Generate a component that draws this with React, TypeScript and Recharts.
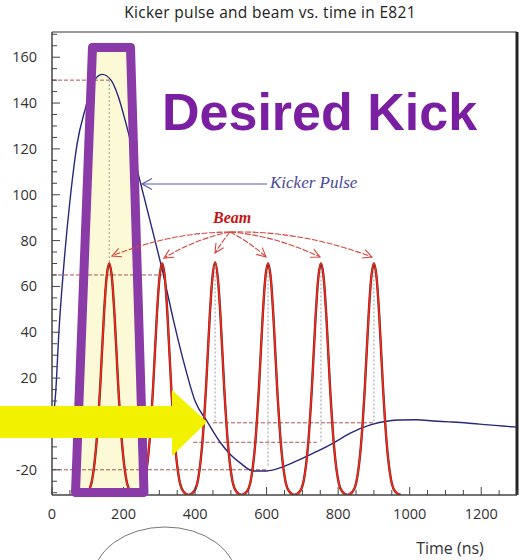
import React from 'react';
import { LineChart, Line, XAxis, YAxis, ReferenceLine } from 'recharts';

// kicker pulse (time in ns, arbitrary units)
const kickerTime = [0, 10, 20, 34, 52, 70, 94, 115, 140, 165, 185, 207, 246, 280, 310, 340, 370, 400, 434, 470, 500, 526, 562, 600, 646, 700, 741, 790, 834, 890, 940, 973, 1020, 1066, 1110, 1160, 1220, 1260, 1300];
const kickerValue = [-2, 13, 42, 71, 100, 122, 138, 149, 152.5, 150, 143, 131, 106, 85, 66, 45, 26, 10, 1, -8, -13.5, -17, -20.5, -20.5, -18.7, -15, -12, -8, -4, -0.4, 1.3, 1.7, 1.8, 1.3, 0.9, 0.4, -0.4, -0.9, -1.4];

// beam bunches, one every ~148 ns
const beamTime = [
  85, 100, 110, 125, 135, 145, 152, 160, 168, 175, 185, 195, 210, 220, 234,
  248, 258, 273, 283, 293, 300, 308, 316, 323, 333, 343, 358, 368, 382,
  396, 406, 421, 431, 441, 448, 456, 464, 471, 481, 491, 506, 516, 530,
  544, 554, 569, 579, 589, 596, 604, 612, 619, 629, 639, 654, 664, 678,
  692, 702, 717, 727, 737, 744, 752, 760, 767, 777, 787, 802, 812, 826,
  840, 850, 865, 875, 885, 892, 900, 908, 915, 925, 935, 950, 960, 975,
];
const beamValue = [
  -31, -29.6, -26, -7, 17, 47, 63, 70, 63, 47, 17, -7, -26, -29.6, -31,
  -29.6, -26, -7, 17, 47, 63, 70, 63, 47, 17, -7, -26, -29.6, -31,
  -29.6, -26, -7, 17, 47, 63, 70.5, 63, 47, 17, -7, -26, -29.6, -31,
  -29.6, -26, -7, 17, 47, 63, 70, 63, 47, 17, -7, -26, -29.6, -31,
  -29.6, -26, -7, 17, 47, 63, 70, 63, 47, 17, -7, -26, -29.6, -31,
  -29.6, -26, -7, 17, 47, 63, 70, 63, 47, 17, -7, -26, -29.6, -31,
];

const xTicks = [0, 50, 100, 150, 200, 250, 300, 350, 400, 450, 500, 550, 600, 650, 700, 750, 800, 850, 900, 950, 1000, 1050, 1100, 1150, 1200, 1250, 1300];
const yTicks = [-30, -25, -20, -15, -10, -5, 0, 5, 10, 15, 20, 25, 30, 35, 40, 45, 50, 55, 60, 65, 70, 75, 80, 85, 90, 95, 100, 105, 110, 115, 120, 125, 130, 135, 140, 145, 150, 155, 160, 165, 170];

// guide lines drawn on the original plot
const dashedGuides = [
  [[0, 150], [160, 150]],
  [[0, 65], [308, 65]],
  [[450, 0.5], [900, 0.5]],
  [[395, -8], [740, -8]],
  [[0, -20], [600, -20]],
];
const dottedGuides = [
  [[160, 150], [160, 70]],
  [[456, 70], [456, 0.5]],
  [[604, 70], [604, -19]],
  [[752, 70], [752, -8]],
  [[900, 70], [900, 0.5]],
];

const kickerData = kickerTime.map((t, i) => ({ t, v: kickerValue[i] }));
const beamData = beamTime.map((t, i) => ({ t, v: beamValue[i] }));

const FONT = '"Open Sans", "DejaVu Sans", sans-serif';

const XTick = (props: any) => {
  const { x, y, payload } = props;
  const major = payload.value % 200 === 0;
  return (
    <g>
      <line x1={x} x2={x} y1={y} y2={y - (major ? 8 : 5)} stroke="#444" />
      {major && (
        <text x={x} y={y + 24} textAnchor="middle" fontSize={14.5} fill="#333" fontFamily={FONT}>
          {payload.value}
        </text>
      )}
    </g>
  );
};

const YTick = (props: any) => {
  const { x, y, payload } = props;
  const major = payload.value % 20 === 0;
  return (
    <g>
      <line x1={x} x2={x + (major ? 8 : 5)} y1={y} y2={y} stroke="#444" />
      {major && (
        <text x={x - 15} y={y + 5} textAnchor="end" fontSize={14.5} fill="#333" fontFamily={FONT}>
          {payload.value}
        </text>
      )}
    </g>
  );
};

// "desired kick" window and arrows (pixel annotations)
const boxPts = '92.5,47.5 130.5,47.5 144,492.5 75.5,492.5';
const beamOrigin = [230, 232];
const beamTips = [[112, 256], [164, 258], [215, 253], [266, 257], [320, 257], [372, 257]];

function BeamArrow({ tip }: { tip: number[] }) {
  const [x0, y0] = beamOrigin;
  const [x1, y1] = tip;
  const cx = (x0 + x1) / 2;
  const cy = (y0 + y1) / 2 - Math.abs(x1 - x0) * 0.1;
  const dx = x1 - cx, dy = y1 - cy;
  const len = Math.hypot(dx, dy);
  const ux = dx / len, uy = dy / len;
  const bx = x1 - ux * 9, by = y1 - uy * 9;
  return (
    <g stroke="#d4463c" strokeWidth={1.1} fill="none">
      <path d={`M${x0},${y0} Q${cx},${cy} ${x1},${y1}`} strokeDasharray="6 1.5" />
      <path d={`M${bx - uy * 4.5},${by + ux * 4.5} L${x1},${y1} L${bx + uy * 4.5},${by - ux * 4.5}`} />
    </g>
  );
}

export default function App() {
  return (
    <div style={{ position: 'absolute', left: 0, top: 0, width: 524, height: 560, background: '#fff' }}>
      <svg width={524} height={560} style={{ position: 'absolute', left: 0, top: 0 }}>
        <polygon points={boxPts} fill="#fcfad6" />
      </svg>
      <div style={{ position: 'absolute', left: 0, top: 0 }}>
        <LineChart width={524} height={560} margin={{ top: 32, right: 7, left: 8, bottom: 35 }}>
          <XAxis
            dataKey="t"
            type="number"
            domain={[0, 1300]}
            ticks={xTicks}
            interval={0}
            allowDataOverflow
            height={30}
            tickSize={0}
            tickMargin={0}
            tickLine={false}
            axisLine={{ stroke: '#444', strokeWidth: 1.5 }}
            tick={XTick}
          />
          <YAxis
            type="number"
            domain={[-31, 171]}
            ticks={yTicks}
            interval={0}
            allowDataOverflow
            width={44}
            tickSize={0}
            tickMargin={0}
            tickLine={false}
            axisLine={{ stroke: '#444', strokeWidth: 1.5 }}
            tick={YTick}
          />
          <ReferenceLine y={171} stroke="#777" strokeWidth={1.5} />
          <ReferenceLine x={1300} stroke="#222" strokeWidth={3} />
          {dashedGuides.map((s, i) => (
            <ReferenceLine
              key={`d${i}`}
              segment={[{ x: s[0][0], y: s[0][1] }, { x: s[1][0], y: s[1][1] }]}
              stroke="#a8564e"
              strokeDasharray="4 2"
            />
          ))}
          {dottedGuides.map((s, i) => (
            <ReferenceLine
              key={`v${i}`}
              segment={[{ x: s[0][0], y: s[0][1] }, { x: s[1][0], y: s[1][1] }]}
              stroke="#9a9a9a"
              strokeDasharray="2 2"
            />
          ))}
          <Line data={kickerData} dataKey="v" type="monotone" stroke="#27277e" strokeWidth={1.4} dot={false} isAnimationActive={false} />
          <Line data={beamData} dataKey="v" type="monotone" stroke="#6a1e18" strokeWidth={2.4} dot={false} isAnimationActive={false} />
          <Line data={beamData} dataKey="v" type="monotone" stroke="#ff2a1c" strokeWidth={1.4} dot={false} isAnimationActive={false} />
        </LineChart>
      </div>
      <svg width={524} height={560} style={{ position: 'absolute', left: 0, top: 0, pointerEvents: 'none' }}>
        <text x={270} y={18} textAnchor="middle" fontSize={15.5} letterSpacing={0.3} fill="#222" fontFamily={FONT}>
          Kicker pulse and beam vs. time in E821
        </text>
        <polygon points={boxPts} fill="none" stroke="#8b3ba8" strokeWidth={9} strokeLinejoin="round" />
        <text x={162} y={130} fontSize={52} fontWeight="bold" fill="#7b1fa2" fontFamily='"Liberation Sans", Arial, sans-serif'>
          Desired Kick
        </text>
        <g stroke="#5c5ca8" strokeWidth={1.2} fill="none">
          <line x1={267} y1={184} x2={142} y2={184} />
          <path d="M152,178.5 L142,184 L152,189.5" />
        </g>
        <text x={270} y={188} fontSize={17} fontStyle="italic" fill="#4a4a98" fontFamily='"Liberation Serif", "DejaVu Serif", serif'>
          Kicker Pulse
        </text>
        <text x={213} y={223} fontSize={16} fontStyle="italic" fontWeight="bold" fill="#c41414" fontFamily='"Liberation Serif", "DejaVu Serif", serif'>
          Beam
        </text>
        {beamTips.map((tip, i) => (
          <BeamArrow key={i} tip={tip} />
        ))}
        <polygon points="0,406 172,406 172,390 207,422 172,456 172,438 0,438" fill="#f2f200" />
        <text x={450} y={554} textAnchor="middle" fontSize={16} fill="#333" fontFamily={FONT}>
          Time (ns)
        </text>
        <ellipse cx={165} cy={580} rx={72} ry={53} fill="none" stroke="#777" strokeWidth={1} />
      </svg>
    </div>
  );
}
